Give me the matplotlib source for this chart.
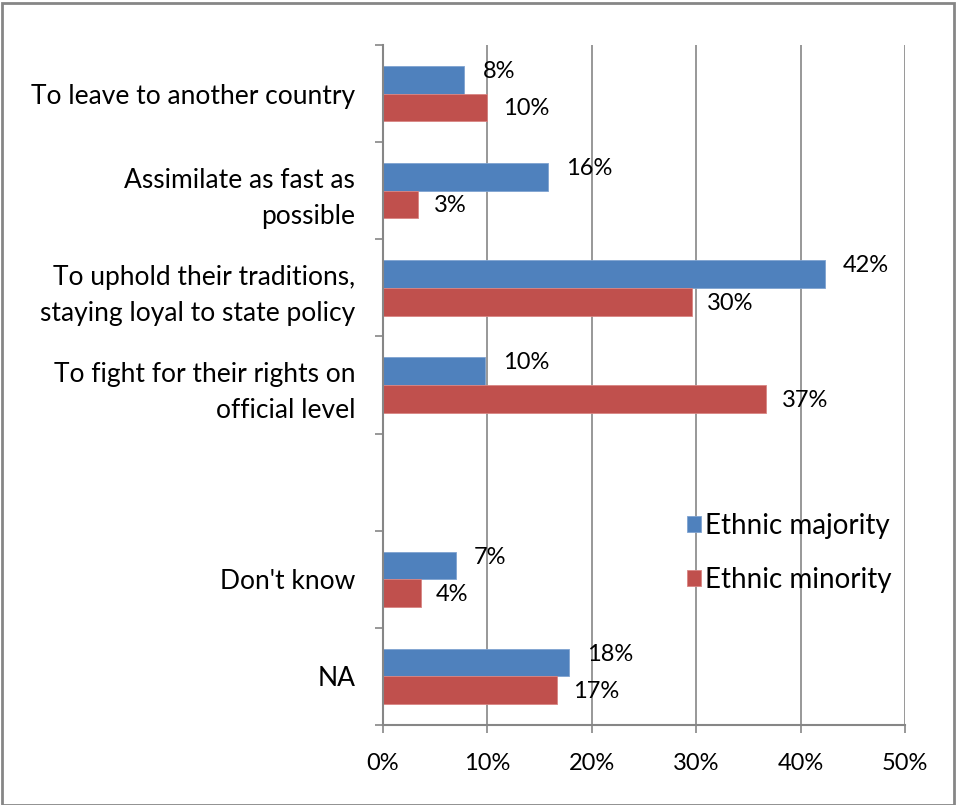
import matplotlib.pyplot as plt
import numpy as np
from matplotlib.patches import Rectangle
from matplotlib.ticker import MultipleLocator, FuncFormatter

plt.rcParams['font.family'] = ['Lato', 'DejaVu Sans']

categories = [
    'To leave to another country',
    'Assimilate as fast as\npossible',
    'To uphold their traditions,\nstaying loyal to state policy',
    'To fight for their rights on\nofficial level',
    '',
    "Don't know",
    'NA',
]
majority = [7.8, 15.8, 42.3, 9.8, np.nan, 7.0, 17.8]
minority = [10.0, 3.4, 29.6, 36.7, np.nan, 3.6, 16.7]
majority_labels = ['8%', '16%', '42%', '10%', '', '7%', '18%']
minority_labels = ['10%', '3%', '30%', '37%', '', '4%', '17%']

blue = '#4f81bd'
red = '#c0504d'
grey = '#868686'

fig = plt.figure(figsize=(9.56, 8.05), dpi=100)
ax = fig.add_axes([0.4006, 0.0994, 0.5461, 0.8447])

y = np.arange(len(categories))
h = 0.285
ax.barh(y - h / 2, majority, height=h, color=blue, edgecolor='#7fa3d1', linewidth=0.6,
        label='Ethnic majority')
ax.barh(y + h / 2, minority, height=h, color=red, edgecolor='#d98583', linewidth=0.6,
        label='Ethnic minority')

# etiquetas de valor ao lado das barras
for i in range(len(categories)):
    if majority_labels[i]:
        ax.annotate(majority_labels[i], (majority[i], y[i] - h / 2), xytext=(13, 6),
                    textcoords='offset points', va='center', ha='left', fontsize=17)
    if minority_labels[i]:
        ax.annotate(minority_labels[i], (minority[i], y[i] + h / 2), xytext=(11, -1),
                    textcoords='offset points', va='center', ha='left', fontsize=17)

ax.set_xlim(0, 50)
ax.set_ylim(len(categories) - 0.5, -0.5)
ax.xaxis.set_major_locator(MultipleLocator(10))
ax.xaxis.set_major_formatter(FuncFormatter(lambda v, p: f'{v:.0f}%'))
ax.grid(True, axis='x', color=grey, linewidth=1.2)
ax.set_axisbelow(True)

ax.set_yticks(y)
ax.set_yticklabels(categories, fontsize=19, linespacing=1.55)
ax.set_yticks(np.arange(-0.5, len(categories)), minor=True)
ax.tick_params(axis='y', which='major', length=0, pad=20)
ax.tick_params(axis='y', which='minor', length=6, width=1.2, color=grey, direction='out')
ax.tick_params(axis='x', length=6, width=1.2, color=grey, direction='out', pad=14, labelsize=17)

for side in ['top', 'right']:
    ax.spines[side].set_visible(False)
for side in ['left', 'bottom']:
    ax.spines[side].set_color(grey)
    ax.spines[side].set_linewidth(1.5)

ax.legend(loc='center left', bbox_to_anchor=(0.707, 0.313), bbox_transform=fig.transFigure,
          frameon=False, fontsize=20, handlelength=0.5, handleheight=0.5,
          handletextpad=0.15, labelspacing=1.0, borderaxespad=0)

fig.patches.append(Rectangle((0.002, 0.0), 0.996, 0.996, transform=fig.transFigure,
                             fill=False, edgecolor=grey, linewidth=2))

fig.savefig('out.png', dpi=100)
